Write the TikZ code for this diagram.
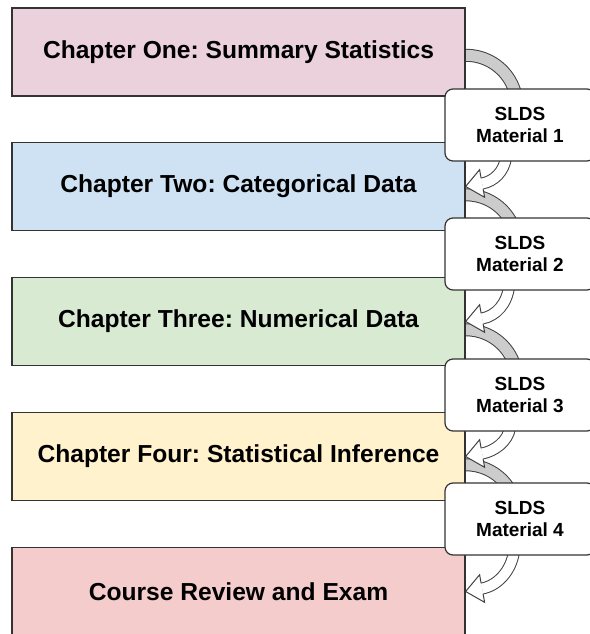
\documentclass[tikz,border=0pt]{standalone}
\usepackage{fontspec}
\setmainfont{Liberation Sans}
\usetikzlibrary{calc}
\pgfdeclarelayer{background}
\pgfsetlayers{background,main}
\frenchspacing

\definecolor{chOne}{HTML}{EAD1DC}
\definecolor{chTwo}{HTML}{CFE2F3}
\definecolor{chThree}{HTML}{D9EAD3}
\definecolor{chFour}{HTML}{FFF2CC}
\definecolor{chReview}{HTML}{F4CCCC}

\tikzset{
  chapter/.style={draw=black!80, line width=1.2pt, minimum width=453pt,
    minimum height=88pt, inner sep=0pt, font=\fontsize{24.6}{29}\selectfont\bfseries},
  material/.style={draw=black!80, line width=1.2pt, fill=white, rounded corners=8pt,
    minimum width=150pt, minimum height=72pt, align=center,
    font=\fontsize{19}{22}\selectfont\bfseries},
  grayband/.style={draw=black!75, line width=1pt, double=black!20, double distance=11pt},
  whiteband/.style={draw=black!75, line width=1pt, double=white, double distance=10pt},
  headline/.style={draw=black!75, line width=1pt, line join=miter},
}

% head of a white curved arrow, tip at #1
\newcommand{\whitehead}[1]{%
  \fill[white] ($(#1)+(17.5,-2.3)$) -- ($(#1)+(19,-10.8)$) -- (#1)
    -- ($(#1)+(14,16.8)$) -- ($(#1)+(15.5,8.3)$) -- cycle;
  \draw[headline] ($(#1)+(17.5,-2.3)$) -- ($(#1)+(19,-10.8)$) -- (#1)
    -- ($(#1)+(14,16.8)$) -- ($(#1)+(15.5,8.3)$);
}

\begin{document}
\begin{tikzpicture}[x=1pt, y=1pt]
\useasboundingbox (0,0) rectangle (589,-634);

%--- CHAPTERS ---
\node[chapter, fill=chOne]    (c1) at (238.5,-52)    {Chapter One: Summary Statistics};
\node[chapter, fill=chTwo]    (c2) at (238.5,-186.5) {Chapter Two: Categorical Data};
\node[chapter, fill=chThree]  (c3) at (238.5,-321.5) {Chapter Three: Numerical Data};
\node[chapter, fill=chFour]   (c4) at (238.5,-456.5) {Chapter Four: Statistical Inference};
\node[chapter, fill=chReview] (c5) at (238.5,-591.5) {Course Review and Exam};

%--- SLDS MATERIAL ---
\node[material] (m1) at (520,-125) {SLDS\\Material 1};
\node[material] (m2) at (520,-254) {SLDS\\Material 2};
\node[material] (m3) at (520,-395) {SLDS\\Material 3};
\node[material] (m4) at (520,-519) {SLDS\\Material 4};

\begin{pgfonlayer}{background}
% gray arcs: chapter -> material (ends hidden under the material box)
\draw[grayband] ($(c1.east)+(-4,-3.5)$) arc[start angle=95, end angle=0, radius=51];
\draw[grayband] ($(c2.east)+(-4,-8.5)$) arc[start angle=95, end angle=0, radius=51];
\draw[grayband] ($(c3.east)+(-4,-8.5)$) arc[start angle=95, end angle=0, radius=51];
\draw[grayband] ($(c4.east)+(-4,-8.5)$) arc[start angle=95, end angle=0, radius=51];

% white arrows: material -> next chapter
\draw[whiteband] ($(m1.south)+(-14,4)$) .. controls +(-2,-14) and +(12,2.2) .. ($(c2.east)+(16.5,3)$);
\whitehead{c2.east}
\draw[whiteband] ($(m2.south)+(-11,4)$) .. controls +(-2,-17) and +(14,2.6) .. ($(c3.east)+(16.5,3)$);
\whitehead{c3.east}
\draw[whiteband] ($(m3.south)+(-10,4)$) .. controls +(-2,-14) and +(12,2.2) .. ($(c4.east)+(16.5,3)$);
\whitehead{c4.east}
\draw[whiteband] ($(m4.south)+(-6,4)$) .. controls +(-3,-20) and +(15,2.75) .. ($(c5.east)+(16.5,3)$);
\whitehead{c5.east}
\end{pgfonlayer}
\end{tikzpicture}
\end{document}
